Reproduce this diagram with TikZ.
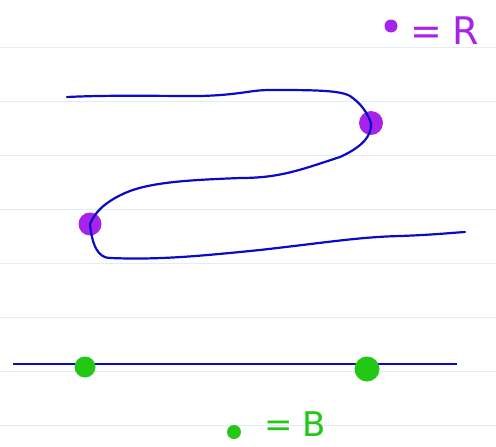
\documentclass[tikz,border=0pt]{standalone}
\usepackage{fontspec}
\setmainfont{DejaVu Sans}
\definecolor{penpurple}{RGB}{165,35,235}
\definecolor{pengreen}{RGB}{35,200,20}
\definecolor{penblue}{RGB}{10,10,200}
\definecolor{rulecol}{RGB}{222,236,252}
\begin{document}
\begin{tikzpicture}[x=1pt,y=-1pt,
  rule/.style={draw=rulecol, line width=1pt},
  pen/.style={draw=penblue, line width=2.2pt, line cap=round, line join=round},
  rdot/.style={circle, fill=penpurple, inner sep=0pt, minimum size=#1},
  gdot/.style={circle, fill=pengreen, inner sep=0pt, minimum size=#1},
  rlabel/.style={text=penpurple, font=\fontsize{38}{38}\selectfont, inner sep=0pt, text depth=0pt},
  glabel/.style={text=pengreen, font=\fontsize{34}{34}\selectfont, inner sep=0pt, text depth=0pt}]
\fill[white] (0,0) rectangle (496,447);
\useasboundingbox (0,0) rectangle (496,447);
\foreach \y in {47,101,155,209,263,317,371,425} \draw[rule] (0,\y) -- (496,\y);
% S curve
\coordinate (s) at (67,97);
\coordinate (e) at (465,232);
\node[rdot=24pt] (r1) at (371,123) {};
\node[rdot=23pt] (r2) at (90,224) {};
\draw[pen] (s) .. controls (110,95) and (150,96) .. (200,96)
  .. controls (240,95) and (250,90) .. (270,90)
  .. controls (310,90) and (340,90) .. (350,96)
  .. controls (360,103) and (366,110) .. (r1.center);
\draw[pen] (r1.center) .. controls (372,140) and (355,150) .. (340,157)
  .. controls (300,170) and (280,178) .. (240,178)
  .. controls (190,180) and (150,182) .. (125,193)
  .. controls (105,202) and (95,212) .. (r2.center);
\draw[pen] (r2.center) .. controls (92,245) and (98,258) .. (110,258)
  .. controls (160,260) and (200,256) .. (260,250)
  .. controls (330,242) and (360,237) .. (400,236)
  .. controls (430,235) and (450,233) .. (e);
% straight line
\coordinate (l1) at (13,364);
\coordinate (l2) at (457,364);
\draw[draw=penblue, line width=1.3pt] (l1) -- (l2);
\node[gdot=21pt] (g1) at (85,367) {};
\node[gdot=25pt] (g2) at (367,369) {};
% legends
\node[rdot=13pt] (rk) at (391,26) {};
\node[rlabel, anchor=base west] (rt) at (410,45) {=\hspace{10pt}R};
\node[gdot=14pt] (bk) at (234,432) {};
\node[glabel, anchor=base west] (bt) at (264,436) {=\hspace{10pt}B};
\end{tikzpicture}
\end{document}
